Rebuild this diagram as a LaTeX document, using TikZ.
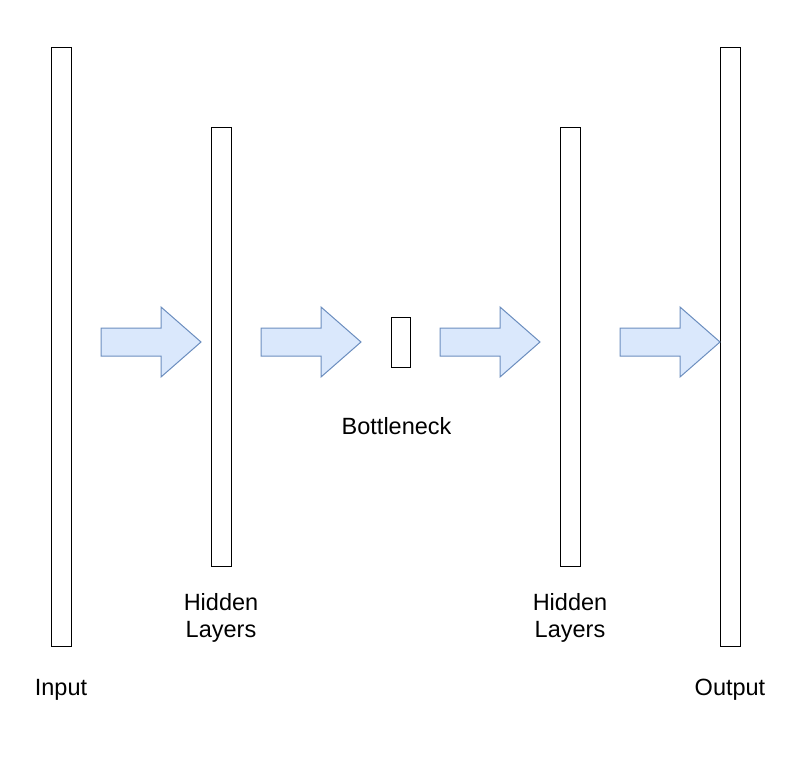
\documentclass[tikz,border=0pt]{standalone}
\usepackage{fontspec}
\setmainfont{Liberation Sans}
\definecolor{arrfill}{HTML}{DAE8FC}
\definecolor{arrdraw}{HTML}{6C8EBF}
\tikzset{
  layer/.style={draw=black, line width=0.9pt, fill=white, minimum width=20pt, inner sep=0pt, anchor=center},
  fat/.style={draw=arrdraw, fill=arrfill, line width=1pt, line join=miter},
  lbl/.style={font=\fontsize{23.5}{27.5}\selectfont, align=center, inner sep=0pt, anchor=base}
}
\newcommand{\fatarrow}[2]{% #1 = left x, #2 = name
  \coordinate (#2) at (#1,342);
  \draw[fat] (#2) ++(0,-14) -- ++(60,0) -- ++(0,-21) -- ++(40,35) -- ++(-40,35) -- ++(0,-21) -- ++(-60,0) -- cycle;
}
\begin{document}
\begin{tikzpicture}[x=1pt,y=-1pt]
\useasboundingbox (0,0) rectangle (801,771);
\node[layer, minimum height=599pt] (input) at (61,346.5) {};
\node[layer, minimum height=439pt] (hid1) at (221,346.5) {};
\node[layer, minimum width=19pt, minimum height=50pt] (bneck) at (400.8,342.3) {};
\node[layer, minimum height=439pt] (hid2) at (570,346.5) {};
\node[layer, minimum height=599pt] (output) at (730,346.5) {};
\fatarrow{101}{a1}
\fatarrow{261}{a2}
\fatarrow{440}{a3}
\fatarrow{620}{a4}
\node[lbl] (tin) at (61,695) {Input};
\node[lbl] (tout) at (730,695) {Output};
\node[lbl] (th1) at (221,637.5) {Hidden\\Layers};
\node[lbl] (th2) at (570,637.5) {Hidden\\Layers};
\begin{scope}
\clip (330,400) rectangle (450.5,450);
\node[lbl, anchor=base west] (tb) at (341.5,434.5) {Bottleneck};
\end{scope}
\end{tikzpicture}
\end{document}
